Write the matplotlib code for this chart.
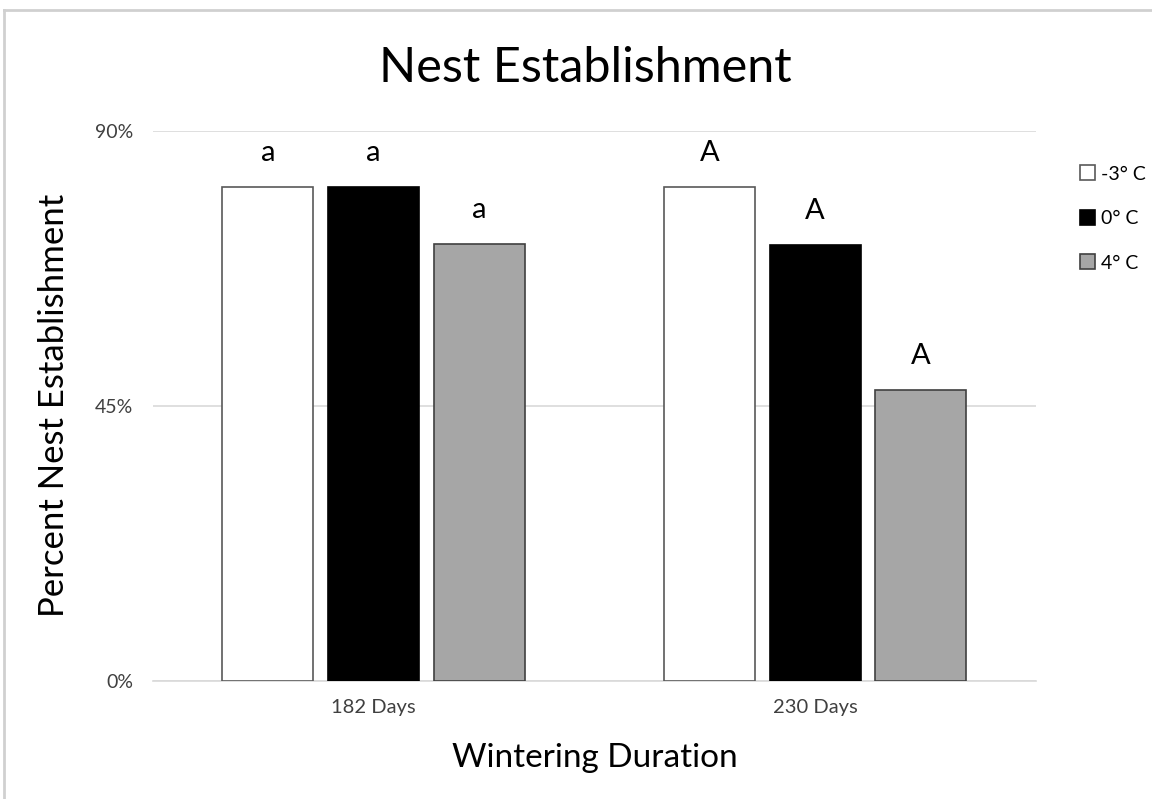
import matplotlib
matplotlib.use("Agg")
import matplotlib.pyplot as plt
import numpy as np
from matplotlib.lines import Line2D
from matplotlib.patches import Patch

plt.rcParams['font.family'] = ['Lato', 'DejaVu Sans']

categories = ["182 Days", "230 Days"]
series_names = ["-3\u00b0 C", "0\u00b0 C", "4\u00b0 C"]
values = {
    "-3\u00b0 C": [80.9, 80.9],
    "0\u00b0 C": [80.9, 71.3],
    "4\u00b0 C": [71.5, 47.6],
}
letters = {
    "-3\u00b0 C": ["a", "A"],
    "0\u00b0 C": ["a", "A"],
    "4\u00b0 C": ["a", "A"],
}
yticks = [0, 45, 90]
ytick_labels = ["0%", "45%", "90%"]

fills = ["#FFFFFF", "#000000", "#A6A6A6"]
edges = ["#595959", "#000000", "#404040"]

fig = plt.figure(figsize=(11.52, 7.99), dpi=100)
ax = fig.add_axes([152.7/1152, 1-680.5/799, (1036-152.7)/1152, (680.5-131)/799])

x = np.arange(len(categories))
width = 0.206
step = 0.239
handles = []
for i, name in enumerate(series_names):
    xs = x + (i - 1) * step
    bars = ax.bar(xs, values[name], width, color=fills[i], edgecolor=edges[i], linewidth=1.2, zorder=3)
    for b, lab in zip(bars, letters[name]):
        ax.annotate(lab, (b.get_x() + b.get_width()/2, b.get_height()), xytext=(0, 15),
                    textcoords="offset points", ha="center", va="bottom", fontsize=21)
    handles.append(Patch(facecolor=fills[i], edgecolor=edges[i], linewidth=1.2, label=name))

ax.set_xlim(-0.5, 1.5)
ax.set_ylim(0, 90)
ax.set_yticks(yticks)
ax.set_yticklabels(ytick_labels, fontsize=14, color="#404040")
ax.set_xticks(x)
ax.set_xticklabels(categories, fontsize=14.5, color="#404040")
ax.tick_params(axis='y', length=0, pad=14)
ax.tick_params(axis='x', length=0, pad=13)
ax.yaxis.grid(True, color="#D9D9D9", linewidth=1.2, zorder=0)
ax.set_axisbelow(True)
for s in ["top", "right", "left"]:
    ax.spines[s].set_visible(False)
ax.spines["bottom"].set_color("#D9D9D9")
ax.spines["bottom"].set_linewidth(1.2)

ax.set_ylabel("Percent Nest Establishment", fontsize=25, labelpad=18)
ax.set_xlabel("Wintering Duration", fontsize=24, labelpad=20)
fig.text(585/1152, 1-68/799, "Nest Establishment", fontsize=35, ha="center", va="center")

leg = fig.legend(handles=handles, loc="upper left", bbox_to_anchor=(1062/1152, 1-148/799),
                 frameon=False, fontsize=14, handlelength=0.8, handleheight=0.8,
                 handletextpad=0.3, labelspacing=1.4)

# figure border (top and left visible)
fig.add_artist(Line2D([4/1152, 1.0], [1-10/799, 1-10/799], transform=fig.transFigure,
                      color="#D0D0D0", linewidth=2))
fig.add_artist(Line2D([4/1152, 4/1152], [0.0, 1-10/799], transform=fig.transFigure,
                      color="#D0D0D0", linewidth=2))

fig.savefig("out.png", dpi=100, facecolor="white")
